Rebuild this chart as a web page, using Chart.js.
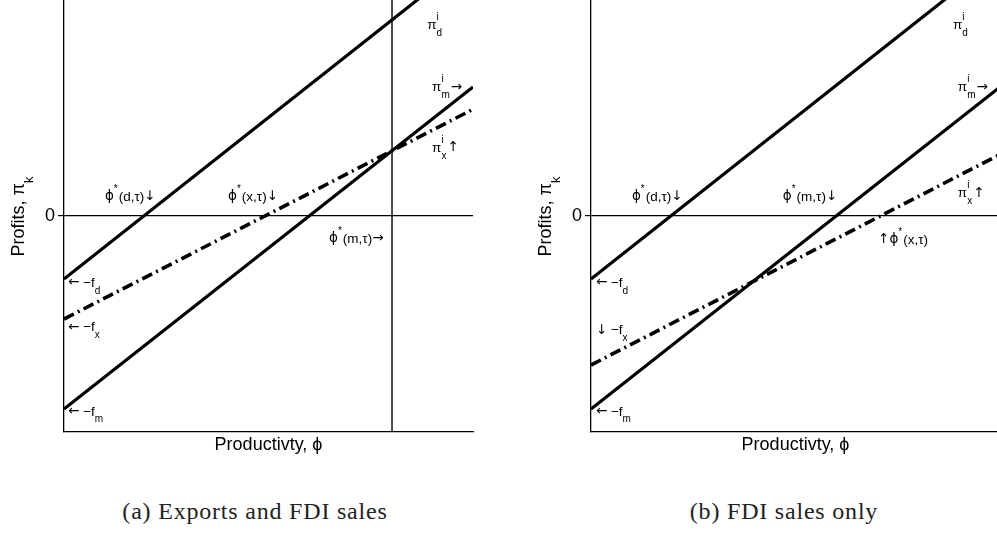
<!DOCTYPE html>
<html>
<head>
<meta charset="utf-8">
<script src="https://cdn.jsdelivr.net/npm/chart.js@4.4.1/dist/chart.umd.min.js"></script>
<style>
  html, body { margin: 0; padding: 0; background: #fff; overflow: hidden; }
  body { width: 997px; height: 533px; position: relative; }
  .panel { position: absolute; top: 0; }
  .caption {
    position: absolute; top: 498px; width: 400px; text-align: center;
    font-family: "Liberation Serif", serif; font-size: 24px; letter-spacing: 0.8px; color: #222;
  }
</style>
</head>
<body>
<div class="panel" style="left:0px"><canvas id="exportsChart" width="498" height="470"></canvas></div>
<div class="panel" style="left:527px"><canvas id="fdiChart" width="498" height="470"></canvas></div>
<div class="caption" style="left:55px">(a) Exports and FDI sales</div>
<div class="caption" style="left:584px">(b) FDI sales only</div>

<script>
// productivity runs 0..1 along x, profits -1..1 along y
const phi = [0, 1];

// (a) exports and FDI sales
const profitDomesticA = [-0.292, 1.204];
const profitFdiA = [-0.894, 0.597];
const profitExportA = [-0.477, 0.494];
const cutoffFdiA = 0.802;

// (b) FDI sales only
const profitDomesticB = [-0.292, 1.204];
const profitFdiB = [-0.894, 0.597];
const profitExportB = [-0.69, 0.285];

const yTicks = [0];
const MAIN_FONT = "Liberation Sans";
const ARROWS = "←→↑↓";
const LABEL_SIZE = 13.5;

function toPoints(xs, ys) {
  return xs.map((v, i) => ({ x: v, y: ys[i] }));
}

function solidLine(values) {
  return {
    data: toPoints(phi, values),
    borderColor: "#000",
    borderWidth: 3.2,
    pointRadius: 0,
    tension: 0,
  };
}

function dotDashLine(values) {
  return {
    data: toPoints(phi, values),
    borderColor: "#000",
    borderWidth: 3.6,
    borderDash: [11, 4.5, 2, 4.5],
    borderCapStyle: "butt",
    pointRadius: 0,
    tension: 0,
  };
}

function fontFor(ch, size) {
  // arrows and the phi symbol come from DejaVu, the rest from Liberation
  const fam = ARROWS.includes(ch) || ch === "ϕ" ? "DejaVu Sans" : MAIN_FONT;
  return `${size}px "${fam}"`;
}

// writes a plain string glyph by glyph, returns its width
function drawRun(ctx, str, x, y, size, measureOnly) {
  let w = 0;
  for (const ch of str) {
    ctx.font = fontFor(ch, size);
    if (!measureOnly) ctx.fillText(ch, x + w, y);
    w += ctx.measureText(ch).width;
  }
  return w;
}

// draws a run of text pieces; sup/sub pieces are smaller and shifted
function drawRich(ctx, x0, y0, parts, size, measureOnly) {
  const small = Math.round(size * 0.72);
  let x = x0;
  ctx.textBaseline = "middle";
  ctx.textAlign = "left";
  ctx.fillStyle = "#000";
  parts.forEach((p) => {
    if (typeof p === "string") {
      x += drawRun(ctx, p, x, y0, size, measureOnly);
      return;
    }
    let w = 0;
    if (p.sup) w = Math.max(w, drawRun(ctx, p.sup, x, y0 - size * 0.55, small, measureOnly));
    if (p.sub) w = Math.max(w, drawRun(ctx, p.sub, x, y0 + size * 0.58, small, measureOnly));
    x += w + 1;
  });
  return x - x0;
}

const richText = {
  id: "richText",
  afterDraw(chart, args, opts) {
    const { ctx, scales } = chart;
    ctx.save();
    (opts.items || []).forEach((item) => {
      drawRich(ctx, scales.x.getPixelForValue(item.x), scales.y.getPixelForValue(item.y), item.parts, LABEL_SIZE);
    });
    if (opts.yTitle) {
      const parts = opts.yTitle;
      ctx.save();
      ctx.translate(19, (chart.chartArea.top + chart.chartArea.bottom) / 2);
      ctx.rotate(-Math.PI / 2);
      const w = drawRich(ctx, 0, 0, parts, 18, true);
      drawRich(ctx, -w / 2, 0, parts, 18);
      ctx.restore();
    }
    ctx.restore();
  },
};

const yTitleParts = ["Profits, π", { sub: "k" }];
const phiStar = (inside) => ["ϕ", { sup: "*" }, inside];

const labelsA = [
  { x: 0.1, y: 0.088, parts: phiStar("(d,τ)↓") },
  { x: 0.401, y: 0.088, parts: phiStar("(x,τ)↓") },
  { x: 0.648, y: -0.106, parts: phiStar("(m,τ)→") },
  { x: 0.888, y: 0.884, parts: ["π", { sup: "i", sub: "d" }] },
  { x: 0.9, y: 0.597, parts: ["π", { sup: "i", sub: "m" }, "→"] },
  { x: 0.9, y: 0.315, parts: ["π", { sup: "i", sub: "x" }, "↑"] },
  { x: 0.01, y: -0.31, parts: ["← −f", { sub: "d" }] },
  { x: 0.01, y: -0.514, parts: ["← −f", { sub: "x" }] },
  { x: 0.01, y: -0.907, parts: ["← −f", { sub: "m" }] },
];

const labelsB = [
  { x: 0.1, y: 0.088, parts: phiStar("(d,τ)↓") },
  { x: 0.469, y: 0.088, parts: phiStar("(m,τ)↓") },
  { x: 0.702, y: -0.111, parts: ["↑", ...phiStar("(x,τ)")] },
  { x: 0.885, y: 0.884, parts: ["π", { sup: "i", sub: "d" }] },
  { x: 0.897, y: 0.597, parts: ["π", { sup: "i", sub: "m" }, "→"] },
  { x: 0.897, y: 0.106, parts: ["π", { sup: "i", sub: "x" }, "↑"] },
  { x: 0.012, y: -0.31, parts: ["← −f", { sub: "d" }] },
  { x: 0.012, y: -0.528, parts: ["↓ −f", { sub: "x" }] },
  { x: 0.012, y: -0.907, parts: ["← −f", { sub: "m" }] },
];

function buildOptions(labels) {
  return {
    responsive: false,
    animation: false,
    layout: { padding: { left: 0, top: 0, right: 25, bottom: 0 } },
    plugins: {
      legend: { display: false },
      tooltip: { enabled: false },
      richText: { items: labels, yTitle: yTitleParts },
    },
    scales: {
      x: {
        type: "linear",
        min: 0,
        max: 1,
        ticks: { display: false },
        grid: { display: false },
        border: { display: true, color: "#000", width: 1.3 },
        title: {
          display: true,
          text: "Productivty, ϕ",
          color: "#000",
          font: { family: `"${MAIN_FONT}", "DejaVu Sans"`, size: 18 },
          padding: { top: 0, bottom: 14 },
        },
        afterFit(scale) {
          scale.height = 38;
          scale.paddingLeft = 0;
          scale.paddingRight = 0;
        },
      },
      y: {
        type: "linear",
        min: -1,
        max: 1,
        afterBuildTicks(scale) {
          scale.ticks = yTicks.map((v) => ({ value: v }));
        },
        ticks: {
          color: "#000",
          padding: 3,
          font: { family: MAIN_FONT, size: 18 },
          callback: (v) => String(v),
        },
        grid: { color: "#000", lineWidth: 1.2, tickLength: 6, drawOnChartArea: true },
        border: { display: true, color: "#000", width: 1.3 },
        afterFit(scale) {
          scale.width = 64;
          scale.paddingTop = 0;
          scale.paddingBottom = 0;
        },
      },
    },
  };
}

new Chart(document.getElementById("exportsChart"), {
  type: "line",
  data: {
    datasets: [
      solidLine(profitDomesticA),
      solidLine(profitFdiA),
      dotDashLine(profitExportA),
      {
        data: [{ x: cutoffFdiA, y: -1 }, { x: cutoffFdiA, y: 1 }],
        borderColor: "#000",
        borderWidth: 1.4,
        pointRadius: 0,
      },
    ],
  },
  options: buildOptions(labelsA),
  plugins: [richText],
});

new Chart(document.getElementById("fdiChart"), {
  type: "line",
  data: {
    datasets: [solidLine(profitDomesticB), solidLine(profitFdiB), dotDashLine(profitExportB)],
  },
  options: buildOptions(labelsB),
  plugins: [richText],
});
</script>
</body>
</html>
